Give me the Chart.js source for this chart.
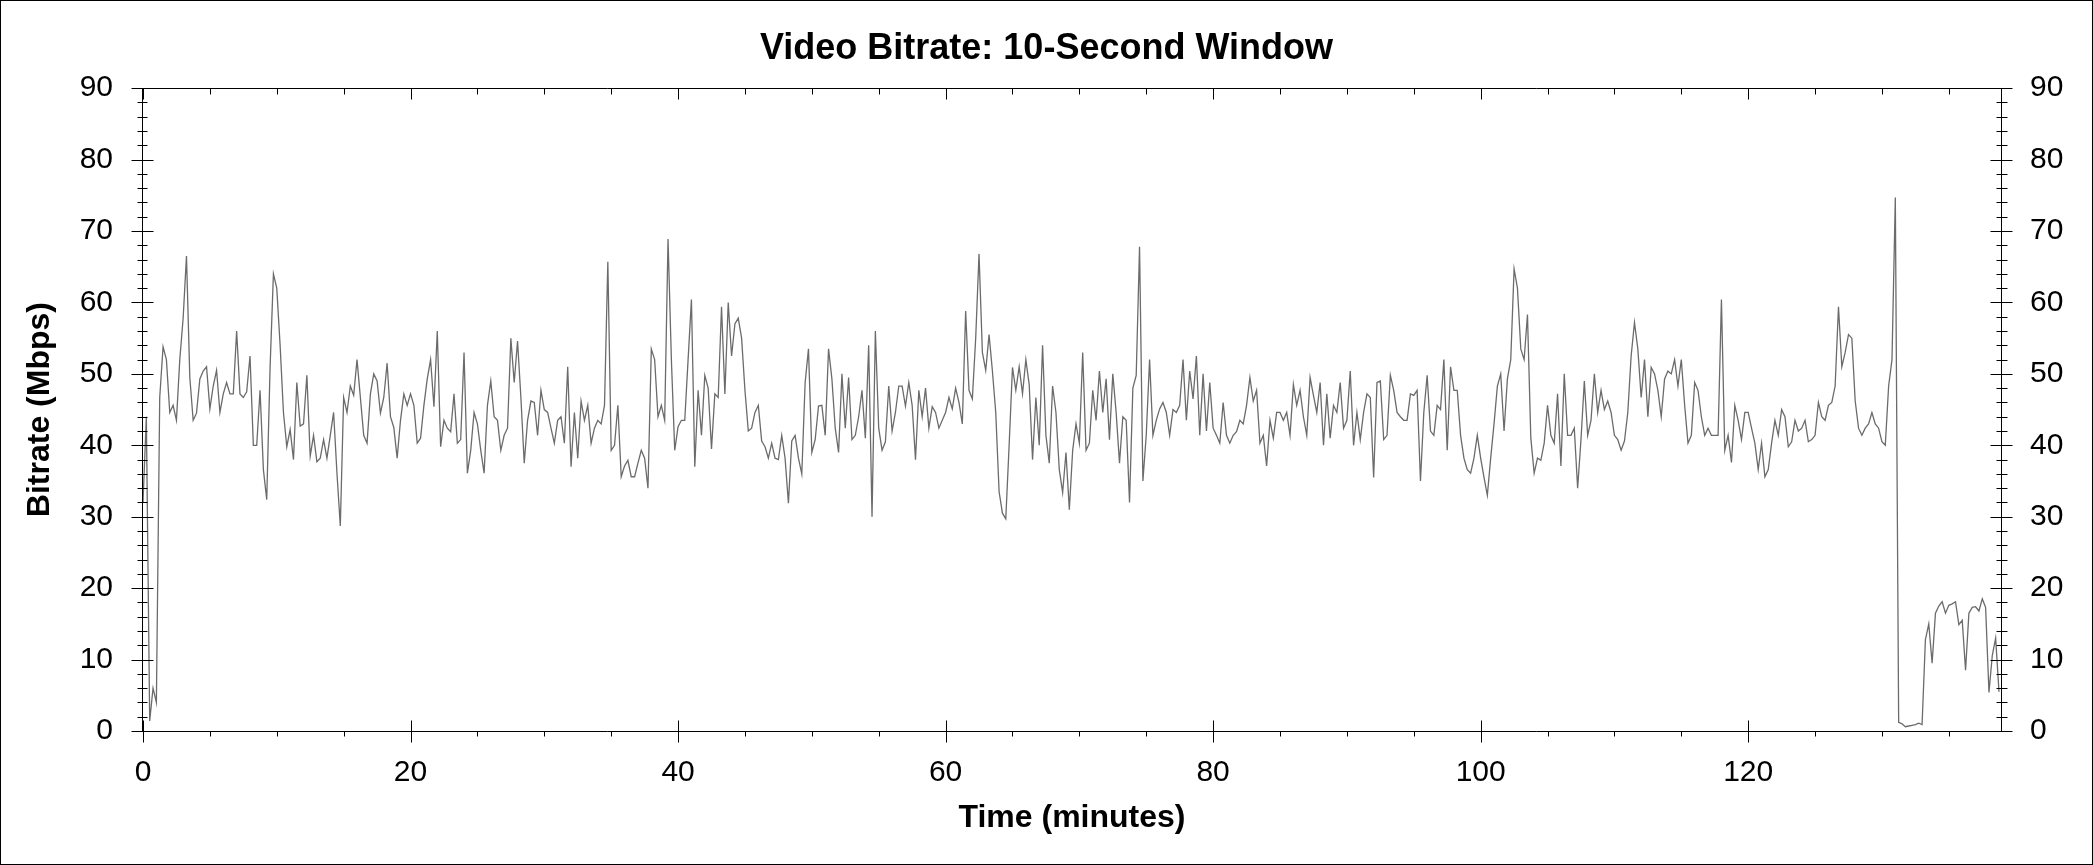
<!DOCTYPE html>
<html>
<head>
<meta charset="utf-8">
<title>Video Bitrate: 10-Second Window</title>
<script src="https://cdn.jsdelivr.net/npm/chart.js@4.4.1/dist/chart.umd.min.js"></script>
<style>
  html, body { margin: 0; padding: 0; background: #fff; }
  #wrap { width: 2093px; height: 865px; }
</style>
</head>
<body>
<div id="wrap"><canvas id="chart" width="2093" height="865"></canvas></div>
<script>
// ---------- Data ----------
const STEP = 0.25;          // minutes between samples
const X_MAX = 138.9;        // end of the clip (minutes)
const xTicks = [0, 20, 40, 60, 80, 100, 120];
const yTicks = [0, 10, 20, 30, 40, 50, 60, 70, 80, 90];

// Mbps, one value every 0.25 min, one row = 2 minutes
const bitrate = [
  32, 44, 1.4, 6, 4, 46.7, 53.8, 52,                 // 0
  44.6, 45.6, 43.5, 52, 57.8, 66.5, 49.5, 43.5,
  44.5, 49.3, 50.4, 51, 45.1, 48.3, 50.5, 44.6,
  47.2, 48.8, 47.2, 47.2, 56, 47.2, 46.7, 47.5,
  52.5, 40, 40, 47.7, 36.6, 32.4, 50.9, 64,
  62, 54, 44.6, 39.8, 42.2, 38, 48.8, 42.7,          // 10
  43, 49.8, 38.5, 41.4, 37.7, 38.2, 40.8, 38.2,
  41.4, 44.6, 36.1, 28.7, 46.7, 44.6, 48.3, 47,
  52, 46.7, 41.4, 40.3, 47.2, 50, 49, 44.5,
  46.7, 51.5, 44, 42.5, 38.2, 43.5, 47.2, 45.6,
  47.2, 45.6, 40.3, 41, 45.6, 49.3, 52, 45.4,        // 20
  56, 39.8, 43.5, 42.4, 41.9, 47.2, 40.3, 40.8,
  53, 36.1, 39.3, 44.6, 43, 39.3, 36.1, 45.6,
  49, 44, 43.5, 39.3, 41.4, 42.4, 55, 48.8,
  54.6, 46.7, 37.5, 43.5, 46.2, 46, 41.4, 47.7,
  45, 44.6, 42.4, 40.3, 43.5, 44, 40.3, 51,          // 30
  37, 44.6, 38.2, 46.2, 43.5, 45.6, 40.3, 42.4,
  43.5, 43, 45.6, 65.7, 39.3, 40, 45.6, 35.6,
  37.1, 37.9, 35.6, 35.6, 37.5, 39.3, 38.2, 34,
  53.5, 52, 44, 45.6, 43.5, 68.9, 52, 39.3,
  42.6, 43.5, 43.5, 52, 60.4, 37, 47.7, 41.4,        // 40
  49.8, 48, 39.5, 47.2, 46.7, 59.4, 47.2, 60,
  52.5, 57, 57.8, 55, 47.7, 42, 42.4, 44.6,
  45.6, 40.6, 39.8, 38.2, 40.3, 38.2, 38, 41.4,
  38.2, 31.9, 40.6, 41.4, 38.2, 36, 48.8, 53.5,
  39, 40.8, 45.5, 45.6, 41.4, 53.5, 49.3, 42.4,      // 50
  39, 50, 42.4, 49.5, 40.8, 41.4, 44, 47.7,
  41, 54, 30, 56, 42.4, 39.3, 40.5, 48.3,
  42, 44.6, 48.3, 48.3, 45.5, 48.8, 45.6, 38,
  47.7, 44, 48, 42.4, 45.4, 44.6, 42.4, 43.5,
  44.6, 46.7, 45.1, 48, 46, 43, 58.8, 47.7,          // 60
  46.5, 55, 66.8, 53, 50.5, 55.5, 50.4, 44.6,
  33.5, 30.5, 29.7, 40, 50.9, 47.7, 51, 47.2,
  52, 48.5, 38, 46.7, 40, 54, 41.4, 37.5,
  48.3, 44.6, 36.6, 33.4, 39, 31, 39.3, 43,
  40.3, 53, 39.3, 40.3, 47.7, 43.5, 50.4, 44.6,      // 70
  49.3, 40.8, 50, 44.6, 37.5, 44, 43.5, 32,
  48, 49.8, 67.8, 35, 41.4, 52, 41.4, 43.5,
  45.1, 46, 44.6, 41.4, 45, 44.6, 45.6, 52,
  43.5, 50.4, 46.5, 52.5, 41.4, 50, 42, 48.8,
  42.4, 41.4, 40.3, 46, 41.4, 40.3, 41.4, 41.9,      // 80
  43.5, 43, 45.6, 49.5, 46.2, 47.7, 40.3, 41.4,
  37.1, 43.5, 41, 44.6, 44.6, 43.5, 44.6, 41.4,
  48.5, 45.6, 47.7, 44, 41.4, 49.5, 47, 44.6,
  48.8, 40, 47.2, 41, 45.6, 44.6, 48.8, 42.4,
  43.5, 50.4, 40, 44.6, 40.8, 44.6, 47.2, 46.7,      // 90
  35.5, 48.8, 49, 40.8, 41.4, 49.8, 47.7, 44.6,
  44, 43.5, 43.5, 47.2, 47, 47.7, 35, 44.6,
  49.8, 42, 41.4, 45.6, 45, 52, 39.3, 51,
  47.7, 47.7, 41.4, 38.2, 36.6, 36.1, 38.2, 41.4,
  38.2, 35.5, 33, 38.2, 43, 48.3, 50, 42,            // 100
  49.3, 52, 64.7, 62, 53.5, 52, 58.3, 41,
  36.1, 38.2, 37.9, 40.3, 45.6, 41.4, 40.3, 47.2,
  37.1, 50, 41.4, 41.4, 42.4, 34, 40.8, 49,
  41.4, 43.5, 50, 44.6, 47.7, 45, 46.2, 44.6,
  41.4, 40.8, 39.3, 40.6, 44.6, 52.5, 57.2, 53.5,    // 110
  46.7, 52, 44, 50.9, 50, 47.7, 44, 49.3,
  50.4, 50, 52, 48.3, 52, 45.6, 40.3, 41.4,
  48.8, 47.7, 44, 41.4, 42.4, 41.4, 41.4, 41.4,
  60.4, 39.3, 41.4, 37.6, 45.6, 43.5, 40.8, 44.6,
  44.6, 42.4, 40.3, 36.6, 40.3, 35.6, 36.6, 40.3,    // 120
  43.5, 41.4, 45, 44, 39.8, 40.5, 43.5, 42,
  42.4, 43.5, 40.5, 40.8, 41.4, 46, 44, 43.5,
  45.6, 46, 48.3, 59.4, 51, 53, 55.5, 55,
  46.2, 42.4, 41.4, 42.4, 43, 44.6, 43, 42.4,
  40.5, 40, 48.3, 52, 74.7, 1.2, 1.0, 0.6,           // 130
  0.7, 0.8, 0.9, 1.1, 0.9, 12.8, 15, 9.5,
  16.5, 17.5, 18.1, 16.5, 17.6, 17.8, 18.1, 14.9,
  15.5, 8.5, 16.5, 17.3, 17.4, 16.8, 18.5, 17.3,
  5.4, 10.6, 13, 5.5
];

// ---------- Look ----------
const FONT = "'Liberation Sans', Arial, sans-serif";
Chart.defaults.font.family = FONT;
Chart.defaults.color = "#000";

// frame, crossing tick marks and the outer border
const frameTicks = {
  id: "frameTicks",
  afterDatasetsDraw(chart) {
    const { ctx, chartArea: a, scales } = chart;
    const L = a.left - 0.5, R = Math.round(a.right) + 0.5;
    const T = Math.round(a.top) + 0.5, B = Math.round(a.bottom) + 0.5;
    ctx.save();
    ctx.strokeStyle = "#000";
    ctx.lineWidth = 1;
    ctx.beginPath();
    ctx.rect(L, T, R - L, B - T);
    for (let v = 0; v <= 90; v += 2) {
      const py = Math.round(scales.y.getPixelForValue(v)) + 0.5;
      const big = v % 10 === 0;
      ctx.moveTo(L - (big ? 11 : 5), py); ctx.lineTo(L + (big ? 11 : 5), py);
      ctx.moveTo(R - (big ? 11 : 5), py); ctx.lineTo(R + (big ? 11 : 6), py);
    }
    for (let t = 0; t <= X_MAX; t += 5) {
      const px = Math.round(scales.x.getPixelForValue(t)) + 0.5;
      const big = t % 20 === 0;
      ctx.moveTo(px, B - (big ? 11 : 0)); ctx.lineTo(px, B + (big ? 11 : 5));
      ctx.moveTo(px, T); ctx.lineTo(px, T + (big ? 11 : 6));
    }
    ctx.stroke();
    ctx.strokeRect(0.5, 0.5, chart.width - 1, chart.height - 1);
    ctx.restore();
  }
};

const tickFont = { size: 30 };
const noGrid = { display: false, drawTicks: false, tickLength: 0 };

new Chart(document.getElementById("chart"), {
  type: "line",
  data: {
    datasets: [{
      label: "Bitrate",
      data: bitrate.map((v, i) => ({ x: i * STEP, y: v })),
      borderColor: "#6b6b6b",
      borderWidth: 1.3,
      pointRadius: 0,
      tension: 0,
      fill: false
    }]
  },
  options: {
    responsive: false,
    animation: false,
    devicePixelRatio: 1,
    layout: { padding: 0 },
    plugins: {
      legend: { display: false },
      tooltip: { enabled: false },
      title: {
        display: true,
        text: "Video Bitrate: 10-Second Window",
        font: { size: 36, weight: "bold" },
        color: "#000",
        padding: { top: 27, bottom: 18 }
      }
    },
    scales: {
      x: {
        type: "linear",
        min: 0,
        max: X_MAX,
        grid: noGrid,
        border: { display: false },
        afterBuildTicks: s => { s.ticks = xTicks.map(v => ({ value: v })); },
        afterFit: s => { s.height = 134; },
        ticks: { font: tickFont, padding: 24, maxRotation: 0 },
        title: {
          display: true,
          text: "Time (minutes)",
          font: { size: 32, weight: "bold" },
          padding: { top: 0, bottom: 28 }
        }
      },
      y: {
        position: "left",
        min: 0,
        max: 90,
        grid: noGrid,
        border: { display: false },
        afterBuildTicks: s => { s.ticks = yTicks.map(v => ({ value: v })); },
        afterFit: s => { s.width = 143; },
        ticks: { font: tickFont, padding: 30 },
        title: {
          display: true,
          text: "Bitrate (Mbps)",
          font: { size: 32, weight: "bold" },
          padding: { top: 21, bottom: 0 }
        }
      },
      y2: {
        position: "right",
        min: 0,
        max: 90,
        grid: noGrid,
        border: { display: false },
        afterBuildTicks: s => { s.ticks = yTicks.map(v => ({ value: v })); },
        afterFit: s => { s.width = 92; },
        ticks: { font: tickFont, padding: 29 }
      }
    }
  },
  plugins: [frameTicks]
});
</script>
</body>
</html>
